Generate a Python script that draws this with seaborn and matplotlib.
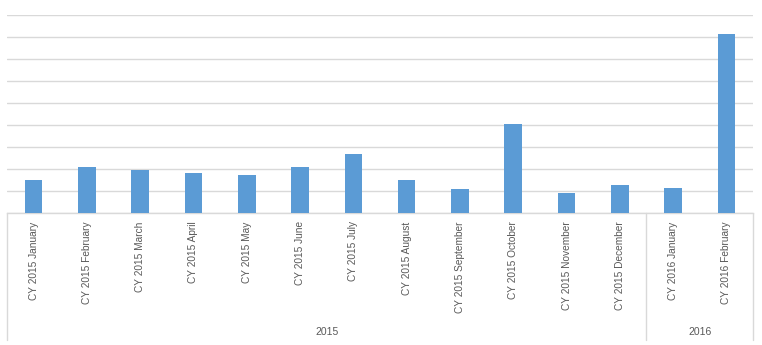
import matplotlib
matplotlib.use("Agg")
import matplotlib.pyplot as plt
import seaborn as sns
import pandas as pd

months = ["CY 2015 January", "CY 2015 February", "CY 2015 March", "CY 2015 April",
          "CY 2015 May", "CY 2015 June", "CY 2015 July", "CY 2015 August",
          "CY 2015 September", "CY 2015 October", "CY 2015 November",
          "CY 2015 December", "CY 2016 January", "CY 2016 February"]
values = [1.5, 2.09, 1.95, 1.82, 1.73, 2.09, 2.68, 1.5, 1.09, 4.05, 0.91, 1.27, 1.14, 8.14]
years = ["2015"] * 12 + ["2016"] * 2
group_names = ["2015", "2016"]

sns.set_style("white")
plt.rcParams['font.family'] = ['Liberation Sans', 'DejaVu Sans']

W, H = 762, 345
fig = plt.figure(figsize=(W / 100, H / 100), dpi=100)
left, right, top, base = 7, 753, 15, 213
ax = fig.add_axes([left / W, (H - base) / H, (right - left) / W, (base - top) / H])

df = pd.DataFrame({"month": months, "value": values, "year": years})
sns.barplot(data=df, x="month", y="value", color="#5B9BD5", saturation=1,
            width=0.33, ax=ax, zorder=3, edgecolor="none")

ax.set_ylim(0, 9)
ax.set_xlim(-0.5, len(months) - 0.5)
ax.set_yticks(range(0, 10))
ax.yaxis.grid(True, color="#D9D9D9", linewidth=1)
ax.set_axisbelow(True)
ax.tick_params(axis="y", left=False, labelleft=False)
ax.tick_params(axis="x", length=0, pad=6, labelsize=7.3, labelcolor="#595959")
plt.setp(ax.get_xticklabels(), rotation=90, va="top", ha="center")
ax.set_xlabel("")
ax.set_ylabel("")
for s in ["top", "right", "left"]:
    ax.spines[s].set_visible(False)
ax.spines["bottom"].set_color("#D9D9D9")
ax.spines["bottom"].set_linewidth(1)

# multi-level category axis
axh = base - top
ybot = -(340 - base) / axh
ylab = -(332 - base) / axh
tr = ax.get_xaxis_transform()
bounds = [-0.5]
for g in group_names:
    idx = [i for i, y in enumerate(years) if y == g]
    lo, hi = min(idx) - 0.5, max(idx) + 0.5
    bounds.append(hi)
    ax.text((lo + hi) / 2, ylab, g, transform=tr, ha="center", va="center",
            fontsize=7.5, color="#595959")
for b in bounds:
    ax.plot([b, b], [0, ybot], transform=tr, color="#D9D9D9", linewidth=1,
            clip_on=False)

fig.savefig("out.png", dpi=100)
